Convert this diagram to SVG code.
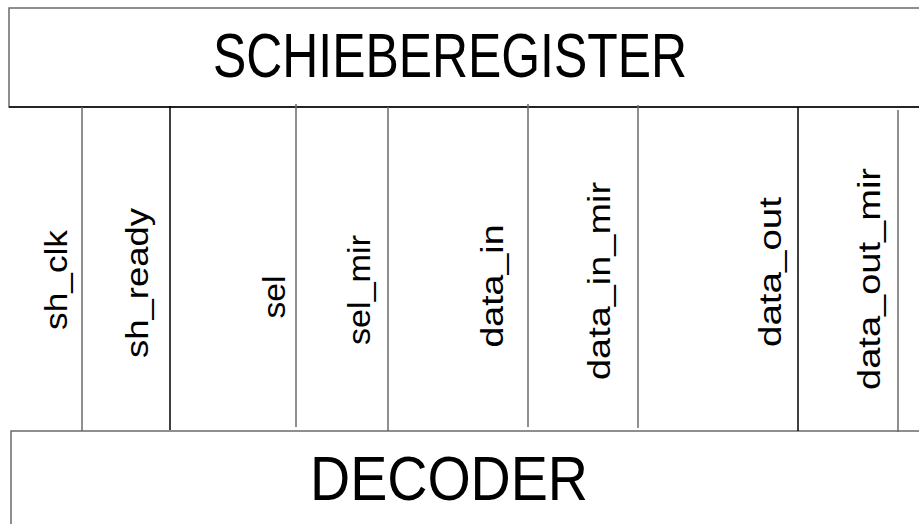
<svg xmlns="http://www.w3.org/2000/svg" width="919" height="524" viewBox="0 0 919 524">
  <style>
    .box { fill: #ffffff; stroke: #6a6a6a; stroke-width: 1.5; }
    .edge { stroke: #000000; stroke-width: 1.5; }
    .wire { stroke: #6a6a6a; stroke-width: 1.5; fill: none; }
    .wire.dark { stroke: #000000; }
    .title { font-family: "Liberation Sans", Arial, sans-serif; font-size: 63px; fill: #000; }
    .sig { font-family: "Liberation Sans", Arial, sans-serif; font-size: 32px; fill: #000; }
  </style>
  <rect width="919" height="524" fill="#ffffff"/>

  <!-- shift register block -->
  <g id="schieberegister">
    <rect class="box" x="9" y="8" width="920" height="99"/>
    <line class="edge" x1="9" y1="107" x2="919" y2="107"/>
    <text class="title" x="450" y="77" text-anchor="middle" textLength="474" lengthAdjust="spacingAndGlyphs">SCHIEBEREGISTER</text>
  </g>

  <!-- decoder block -->
  <g id="decoder">
    <rect class="box" x="11" y="431" width="920" height="100"/>
    <text class="title" x="449" y="500" text-anchor="middle" textLength="278" lengthAdjust="spacingAndGlyphs">DECODER</text>
  </g>

  <!-- signal lines between the blocks -->
  <g id="connectors">
    <line class="wire" x1="82" y1="107" x2="82" y2="431"/>
    <line class="wire dark" x1="170" y1="106" x2="170" y2="430"/>
    <line class="wire" x1="296" y1="104" x2="296" y2="427"/>
    <line class="wire" x1="388" y1="107" x2="388" y2="431"/>
    <line class="wire" x1="528" y1="104" x2="528" y2="427"/>
    <line class="wire" x1="638" y1="105" x2="638" y2="428"/>
    <line class="wire dark" x1="798" y1="107" x2="798" y2="431"/>
    <line class="wire" x1="898" y1="110" x2="898" y2="432"/>
  </g>

  <!-- signal names -->
  <g id="labels">
    <text class="sig" transform="translate(67,280) rotate(-90)" text-anchor="middle" textLength="100" lengthAdjust="spacingAndGlyphs">sh_clk</text>
    <text class="sig" transform="translate(148,283) rotate(-90)" text-anchor="middle" textLength="150" lengthAdjust="spacingAndGlyphs">sh_ready</text>
    <text class="sig" transform="translate(285,297) rotate(-90)" text-anchor="middle" textLength="43" lengthAdjust="spacingAndGlyphs">sel</text>
    <text class="sig" transform="translate(370,290) rotate(-90)" text-anchor="middle" textLength="110" lengthAdjust="spacingAndGlyphs">sel_mir</text>
    <text class="sig" transform="translate(503,286) rotate(-90)" text-anchor="middle" textLength="123" lengthAdjust="spacingAndGlyphs">data_in</text>
    <text class="sig" transform="translate(610,281) rotate(-90)" text-anchor="middle" textLength="198" lengthAdjust="spacingAndGlyphs">data_in_mir</text>
    <text class="sig" transform="translate(781,272) rotate(-90)" text-anchor="middle" textLength="150" lengthAdjust="spacingAndGlyphs">data_out</text>
    <text class="sig" transform="translate(880,279) rotate(-90)" text-anchor="middle" textLength="222" lengthAdjust="spacingAndGlyphs">data_out_mir</text>
  </g>
</svg>
